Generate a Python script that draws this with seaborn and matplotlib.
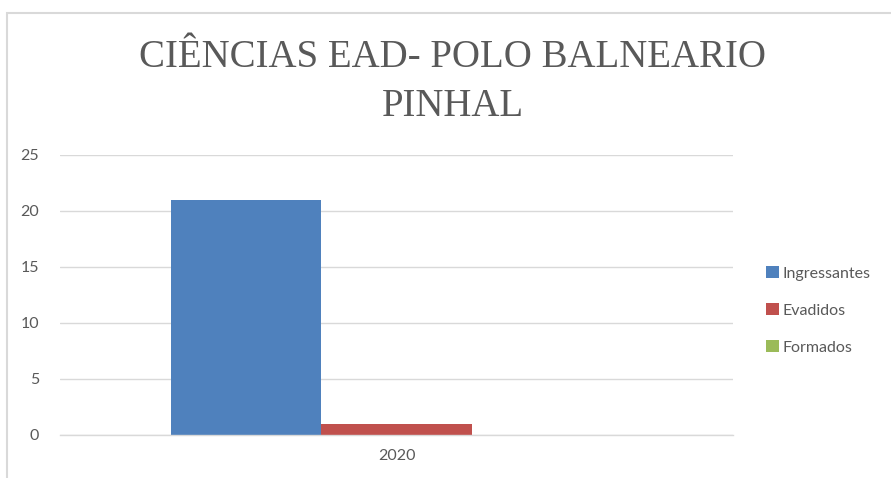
import pandas as pd
import seaborn as sns
import matplotlib.pyplot as plt
from matplotlib.patches import Rectangle

anos = ["2020"]
series = ["Ingressantes", "Evadidos", "Formados"]
valores = [21, 1, 0]
cores = ["#4F81BD", "#C0504D", "#9BBB59"]

df = pd.DataFrame({"Ano": anos * len(series), "Serie": series, "Valor": valores})

sns.set_style("white")
plt.rcParams['font.family'] = ['Lato', 'DejaVu Sans']

fig = plt.figure(figsize=(8.91, 4.78), dpi=100)
ax = fig.add_axes([60 / 891, 1 - 435 / 478, 673 / 891, 280 / 478])

sns.barplot(data=df, x="Ano", y="Valor", hue="Serie", palette=cores,
            width=0.669, saturation=1, linewidth=0, ax=ax, legend=True)

ax.set_ylim(0, 25)
ax.set_xlim(-0.5, 0.5)
ax.set_yticks(range(0, 26, 5))
ax.yaxis.grid(True, color="#D9D9D9", linewidth=1)
ax.set_axisbelow(True)
for s in ax.spines.values():
    s.set_visible(False)
ax.spines["bottom"].set_visible(True)
ax.spines["bottom"].set_color("#D9D9D9")
ax.spines["bottom"].set_linewidth(1)
ax.tick_params(length=0, labelsize=11.5, colors="#595959")
ax.tick_params(axis="y", pad=15)
ax.tick_params(axis="x", pad=10)
ax.set_xlabel("")
ax.set_ylabel("")

leg = ax.legend(loc="center left", bbox_to_anchor=(1.027, 0.446), frameon=False,
                fontsize=11.5, handlelength=0.85, handleheight=0.85,
                handletextpad=0.2, labelspacing=1.38)
for t in leg.get_texts():
    t.set_color("#595959")

fig.text(0.508, 1 - 82 / 478, "CIÊNCIAS EAD- POLO BALNEARIO\nPINHAL",
         ha="center", va="center", fontsize=28, color="#595959",
         family="Liberation Serif", linespacing=1.45)

# chart frame
fig.patches.append(Rectangle((7 / 891, -0.1), 1.2, 1 - 13 / 478 + 0.1,
                             transform=fig.transFigure, fill=False,
                             edgecolor="#D9D9D9", linewidth=1.5))

plt.savefig("out.png", dpi=100)
plt.close()
